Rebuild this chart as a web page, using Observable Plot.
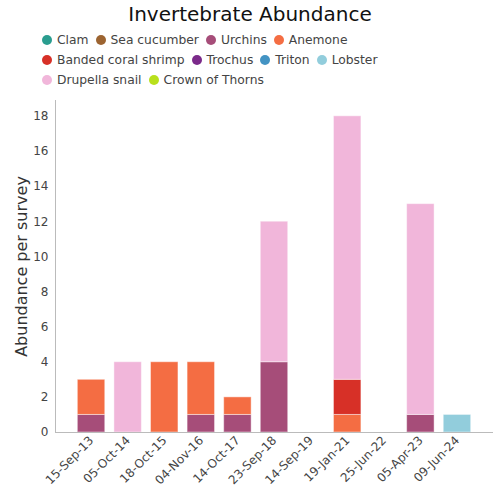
<!DOCTYPE html>
<html><head><meta charset="utf-8">
<script src="https://cdn.jsdelivr.net/npm/d3@7"></script>
<script src="https://cdn.jsdelivr.net/npm/@observablehq/plot@0.6"></script>
<style>
body{margin:0;background:#fff;font-family:"DejaVu Sans",sans-serif;}
#wrap{position:relative;width:500px;height:500px;overflow:hidden}
#title{position:absolute;left:0;top:2px;width:500px;text-align:center;font-size:20px;color:#111;white-space:nowrap}
#legend{position:absolute;left:42px;top:30px;width:430px;display:flex;flex-wrap:wrap;font-size:12.3px;color:#444;line-height:20px}
.item{display:flex;align-items:center;margin-right:7px;white-space:nowrap}
.dot{width:10px;height:10px;border-radius:50%;margin-right:5px}
#chart{position:absolute;left:0;top:95px}
</style>
</head><body>
<div id="wrap">
  <div id="title">Invertebrate Abundance</div>
  <div id="legend"></div>
  <div id="chart"></div>
</div>
<script>
const dates = ["15-Sep-13","05-Oct-14","18-Oct-15","04-Nov-16","14-Oct-17","23-Sep-18","14-Sep-19","19-Jan-21","25-Jun-22","05-Apr-23","09-Jun-24"];
const species = ["Clam","Sea cucumber","Urchins","Anemone","Banded coral shrimp","Trochus","Triton","Lobster","Drupella snail","Crown of Thorns"];
const colors = ["#2a9d8f","#9c6431","#a64d79","#f46d43","#d73027","#7b2a8a","#4393c3","#92cddc","#f1b6da","#b8e01c"];

const clam            = [0,0,0,0,0,0,0,0,0,0,0];
const seaCucumber     = [0,0,0,0,0,0,0,0,0,0,0];
const urchins         = [1,0,0,1,1,4,0,0,0,1,0];
const anemone         = [2,0,4,3,1,0,0,1,0,0,0];
const bandedShrimp    = [0,0,0,0,0,0,0,2,0,0,0];
const trochus         = [0,0,0,0,0,0,0,0,0,0,0];
const triton          = [0,0,0,0,0,0,0,0,0,0,0];
const lobster         = [0,0,0,0,0,0,0,0,0,0,1];
const drupella        = [0,4,0,0,0,8,0,15,0,12,0];
const crownOfThorns   = [0,0,0,0,0,0,0,0,0,0,0];

const seriesValues = [clam, seaCucumber, urchins, anemone, bandedShrimp, trochus, triton, lobster, drupella, crownOfThorns];
const yTicks = [0,2,4,6,8,10,12,14,16,18];
const yLabel = "Abundance per survey";

const rows = [];
species.forEach((s, i) => {
  seriesValues[i].forEach((v, j) => {
    if (v > 0) rows.push({date: dates[j], species: s, value: v});
  });
});

// legend
const legend = document.getElementById("legend");
species.forEach((s, i) => {
  const it = document.createElement("div");
  it.className = "item";
  const d = document.createElement("span");
  d.className = "dot";
  d.style.background = colors[i];
  it.appendChild(d);
  const t = document.createElement("span");
  t.textContent = s;
  it.appendChild(t);
  legend.appendChild(it);
});

const chart = Plot.plot({
  width: 500,
  height: 405,
  marginTop: 5,
  marginBottom: 68,
  marginLeft: 55,
  marginRight: 7,
  style: {fontFamily: "DejaVu Sans, sans-serif", fontSize: "12px", color: "#444", background: "white"},
  x: {domain: dates, paddingInner: 0.25, paddingOuter: 0.61, round: false, label: null},
  y: {domain: [0, 18.9], label: null},
  color: {domain: species, range: colors},
  marks: [
    Plot.frame({anchor: "left", stroke: "#bbb"}),
    Plot.barY(rows, Plot.stackY({
      x: "date", y: "value", fill: "species", order: species,
      stroke: "white", strokeOpacity: 0.45, strokeWidth: 1
    })),
    Plot.ruleY([0], {stroke: "#bbb"}),
    Plot.axisY({ticks: yTicks, tickSize: 0, tickPadding: 7, label: null, fill: "#444"}),
    Plot.axisX({tickRotate: -45, tickSize: 0, tickPadding: 6, label: null, fill: "#444"}),
    Plot.text([yLabel], {frameAnchor: "left", rotate: -90, dx: -34, textAnchor: "middle", lineAnchor: "middle", fontSize: 16, fill: "#333", text: d => d})
  ]
});
document.getElementById("chart").appendChild(chart);
</script>
</body></html>
